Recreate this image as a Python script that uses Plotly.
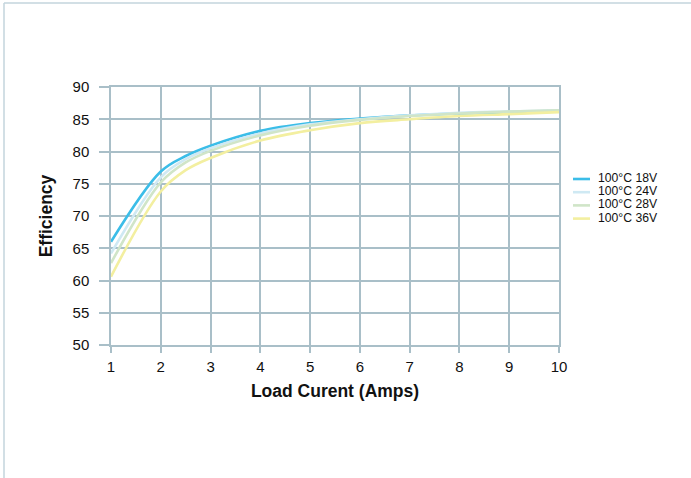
import plotly.graph_objects as go

# ---- data ----
load_current = [1, 2, 2.5, 3, 4, 5, 6, 7, 8, 9, 10]
eff_18v = [66.0, 76.9, 79.3, 80.9, 83.2, 84.4, 85.1, 85.6, 85.9, 86.1, 86.3]
eff_24v = [64.2, 76.0, 78.8, 80.5, 82.8, 84.2, 85.0, 85.6, 86.0, 86.2, 86.4]
eff_28v = [62.7, 75.2, 78.3, 80.1, 82.5, 84.0, 84.9, 85.5, 85.9, 86.2, 86.4]
eff_36v = [60.6, 73.8, 77.1, 79.0, 81.7, 83.3, 84.4, 85.0, 85.5, 85.8, 86.1]
series_names = ["100°C 18V", "100°C 24V", "100°C 28V", "100°C 36V"]
series_values = [eff_18v, eff_24v, eff_28v, eff_36v]
series_colors = ["#3bbde8", "#cfe9f3", "#d0e5c8", "#f3efa0"]
x_ticks = [1, 2, 3, 4, 5, 6, 7, 8, 9, 10]
y_ticks = [50, 55, 60, 65, 70, 75, 80, 85, 90]

W, H = 691, 478
L, R, T, B = 111, 132, 87, 133
PW, PH = W - L - R, H - T - B
FONT = "Arial, Liberation Sans, sans-serif"
GRID = "#a9bfc8"

def px_x(p):
    return (p - L) / PW

def px_y(p):
    return (H - B - p) / PH

fig = go.Figure()
for name, vals, col in zip(series_names, series_values, series_colors):
    fig.add_trace(go.Scatter(
        x=load_current, y=vals, name=name, mode="lines",
        line=dict(color=col, width=2.6, shape="spline", smoothing=1.0),
        showlegend=False,
    ))

# custom compact legend
legend_rows = [179.0, 192.2, 205.4, 218.6]
shapes = []
annotations = []
for name, col, ry in zip(series_names, series_colors, legend_rows):
    shapes.append(dict(type="line", xref="paper", yref="paper",
                       x0=px_x(573), x1=px_x(590), y0=px_y(ry), y1=px_y(ry),
                       line=dict(color=col, width=2.6)))
    annotations.append(dict(text=name, xref="paper", yref="paper",
                            x=px_x(596), y=px_y(ry - 1.0), xanchor="left", yanchor="middle",
                            showarrow=False, font=dict(family=FONT, size=12.2, color="#111111")))

# frame border (top and left)
shapes.append(dict(type="line", xref="paper", yref="paper",
                   x0=px_x(4), x1=px_x(W), y0=px_y(3), y1=px_y(3),
                   line=dict(color="#c3d5dc", width=1.5)))
shapes.append(dict(type="line", xref="paper", yref="paper",
                   x0=px_x(4), x1=px_x(4), y0=px_y(3), y1=px_y(H),
                   line=dict(color="#c3d5dc", width=1.5)))

fig.update_layout(
    width=W, height=H,
    margin=dict(l=L, r=R, t=T, b=B, autoexpand=False),
    paper_bgcolor="white", plot_bgcolor="white",
    font=dict(family=FONT, color="#111111"),
    shapes=shapes, annotations=annotations,
    showlegend=False,
)
fig.update_xaxes(
    range=[1, 10], tickvals=x_ticks, ticktext=[str(v) for v in x_ticks],
    showgrid=True, gridcolor=GRID, gridwidth=1.5,
    showline=True, linecolor=GRID, linewidth=1.5, mirror=True,
    ticks="outside", ticklen=6, tickcolor=GRID, tickwidth=1.5,
    ticklabelstandoff=1,
    tickfont=dict(family=FONT, size=15, color="#111111"),
    title=dict(text="<b>Load Curent (Amps)</b>", font=dict(family=FONT, size=17.5, color="#111111"), standoff=11),
    zeroline=False, automargin=False,
)
fig.update_yaxes(
    range=[50, 90], tickvals=y_ticks, ticktext=[str(v) for v in y_ticks],
    showgrid=True, gridcolor=GRID, gridwidth=1.5,
    showline=True, linecolor=GRID, linewidth=1.5, mirror=True,
    ticks="outside", ticklen=10, tickcolor=GRID, tickwidth=1.5,
    ticklabelstandoff=7,
    tickfont=dict(family=FONT, size=15, color="#111111"),
    title=dict(text="<b>Efficiency</b>", font=dict(family=FONT, size=17.5, color="#111111"), standoff=15),
    zeroline=False, automargin=False,
)

fig.write_html("out.html", config={"displayModeBar": False},
               post_script="document.body.style.margin='0';")
